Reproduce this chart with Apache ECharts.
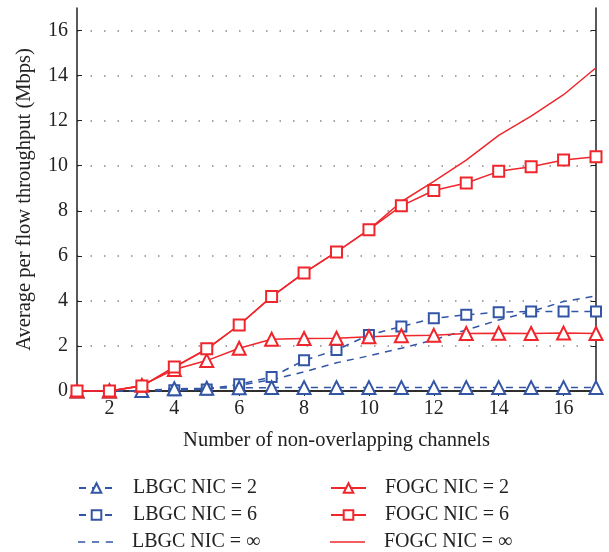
<!doctype html>
<html lang="en">
<head>
	<meta charset="UTF-8">
	<title>Average per flow throughput</title>
	<style>
		html, body { margin: 0; padding: 0; background: #fff; }
		#main { width: 609px; height: 552px; }
	</style>
	<script src="https://cdn.jsdelivr.net/npm/echarts@6/dist/echarts.min.js"></script>
</head>
<body>
<div id="main"></div>
<script type="text/javascript">
	// number of non-overlapping channels
	var channels = [1, 2, 3, 4, 5, 6, 7, 8, 9, 10, 11, 12, 13, 14, 15, 16, 17];
	var evenTicks = [2, 4, 6, 8, 10, 12, 14, 16];
	var yTicks = [0, 2, 4, 6, 8, 10, 12, 14, 16];

	// throughput (Mbps)
	var lbgc2   = [0, 0, 0.02, 0.1, 0.12, 0.14, 0.15, 0.15, 0.15, 0.15, 0.15, 0.15, 0.15, 0.15, 0.15, 0.15, 0.15];
	var lbgc6   = [0, 0, -0.02, 0.03, 0.07, 0.3, 0.62, 1.36, 1.82, 2.49, 2.86, 3.23, 3.38, 3.5, 3.53, 3.53, 3.53];
	var lbgcInf = [0, 0, 0, 0.05, 0.1, 0.25, 0.5, 0.85, 1.25, 1.56, 1.9, 2.27, 2.71, 3.15, 3.53, 3.97, 4.22];
	var fogc2   = [0, 0, 0.25, 0.95, 1.35, 1.9, 2.3, 2.33, 2.34, 2.41, 2.45, 2.47, 2.55, 2.56, 2.55, 2.57, 2.55];
	var fogc6   = [0, 0, 0.22, 1.07, 1.87, 2.93, 4.19, 5.24, 6.17, 7.16, 8.22, 8.9, 9.23, 9.75, 9.95, 10.25, 10.4];
	var fogcInf = [0, 0, 0.22, 1.05, 1.85, 2.93, 4.19, 5.24, 6.17, 7.16, 8.4, 9.3, 10.25, 11.35, 12.2, 13.15, 14.35];

	// legend order: column by column
	var leftNames = ['LBGC NIC = 2', 'LBGC NIC = 6', 'LBGC NIC = ∞'];
	var rightNames = ['FOGC NIC = 2', 'FOGC NIC = 6', 'FOGC NIC = ∞'];

	var blue = '#3355a5';
	var red = '#ef262c';
	var font = 'Liberation Serif';

	function pairs(vals) {
		return channels.map(function (c, i) { return [c, vals[i]]; });
	}

	function mk(name, vals, color, dashed, symbol, size) {
		return {
			name: name,
			type: 'line',
			data: pairs(vals),
			symbol: symbol || 'none',
			symbolSize: size || 10,
			showSymbol: !!symbol,
			lineStyle: { color: color, width: 1.5, type: dashed ? [7, 6] : 'solid' },
			itemStyle: { color: color, borderWidth: 1.5 },
			emphasis: { disabled: true },
			animation: false
		};
	}

	// icons for the marker-less series
	var dashIcon = 'path://M0,0h7v1.5h-7z M13.5,0h7v1.5h-7z M27,0h7v1.5h-7z';
	var solidIcon = 'path://M0,0h34v1.5h-34z';

	function legendItem(name, left, row) {
		var item = { name: name };
		if (name.indexOf('∞') >= 0) {
			item.icon = name.indexOf('LBGC') === 0 ? dashIcon : solidIcon;
		}
		return {
			orient: 'vertical',
			left: left,
			top: 478 + row * 27,
			padding: 0,
			itemWidth: 35,
			itemHeight: 12,
			selectedMode: false,
			textStyle: { fontFamily: font, fontSize: 20, lineHeight: 20, color: '#222', padding: [0, 0, 0, 14] },
			data: [item]
		};
	}

	var legends = [];
	leftNames.forEach(function (n, i) { legends.push(legendItem(n, 78, i)); });
	rightNames.forEach(function (n, i) { legends.push(legendItem(n, 330, i)); });

	var myChart = echarts.init(document.getElementById('main'));

	var option = {
		backgroundColor: '#fff',
		grid: { left: 77, right: 13, top: 8, bottom: 161, containLabel: false },
		legend: legends,
		xAxis: [{
			type: 'value',
			min: 1,
			max: 17,
			name: 'Number of non-overlapping channels',
			nameLocation: 'middle',
			nameGap: 39,
			nameTextStyle: { fontFamily: font, fontSize: 20.5, color: '#222' },
			axisLine: { show: true, lineStyle: { color: '#222', width: 1.5 } },
			axisTick: { show: true, inside: true, length: 5, customValues: evenTicks, lineStyle: { color: '#222' } },
			axisLabel: { customValues: evenTicks, fontFamily: font, fontSize: 20, color: '#222', margin: 8 },
			splitLine: { show: false }
		}, {
			type: 'value',
			min: 1,
			max: 17,
			position: 'top',
			axisLine: { show: true, lineStyle: { color: '#222', width: 1.5 } },
			axisTick: { show: true, inside: true, length: 5, customValues: evenTicks, lineStyle: { color: '#222' } },
			axisLabel: { show: false },
			splitLine: { show: false }
		}],
		yAxis: [{
			type: 'value',
			min: 0,
			max: 17,
			interval: 2,
			name: 'Average per flow throughput (Mbps)',
			nameLocation: 'middle',
			nameGap: 42,
			nameTextStyle: { fontFamily: font, fontSize: 20.5, color: '#222' },
			axisLine: { show: true, lineStyle: { color: '#222', width: 1.5 } },
			axisTick: { show: true, inside: true, length: 5, customValues: yTicks, lineStyle: { color: '#222' } },
			axisLabel: { customValues: yTicks, fontFamily: font, fontSize: 20, color: '#222', margin: 9 },
			splitLine: { show: true, lineStyle: { color: '#888', width: 1.5, type: [1.5, 12] } }
		}, {
			type: 'value',
			min: 0,
			max: 17,
			position: 'right',
			axisLine: { show: true, lineStyle: { color: '#222', width: 1.5 } },
			axisTick: { show: true, inside: true, length: 5, customValues: yTicks, lineStyle: { color: '#222' } },
			axisLabel: { show: false },
			splitLine: { show: false }
		}],
		series: [
			mk('LBGC NIC = ∞', lbgcInf, blue, true),
			mk('LBGC NIC = 6', lbgc6, blue, true, 'emptyRect', 10),
			mk('LBGC NIC = 2', lbgc2, blue, true, 'emptyTriangle', 13),
			mk('FOGC NIC = 2', fogc2, red, false, 'emptyTriangle', 13),
			mk('FOGC NIC = ∞', fogcInf, red, false),
			mk('FOGC NIC = 6', fogc6, red, false, 'emptyRect', 11)
		]
	};

	myChart.setOption(option);
</script>
</body>
</html>
